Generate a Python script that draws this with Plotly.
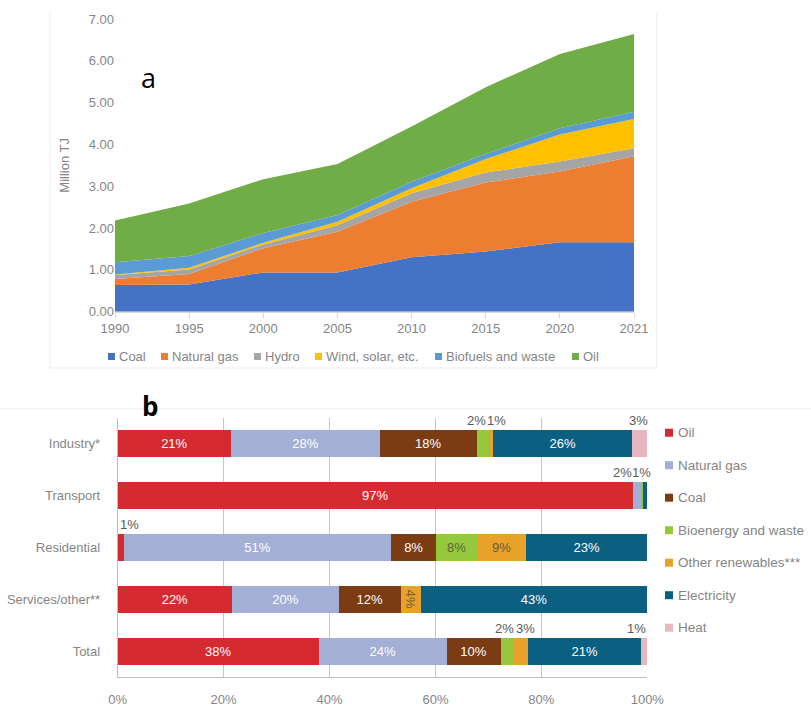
import plotly.graph_objects as go

# ---------------- Data: panel a ----------------
years = ["1990", "1995", "2000", "2005", "2010", "2015", "2020", "2021"]
coal = [0.64, 0.65, 0.94, 0.94, 1.30, 1.44, 1.66, 1.66]
natural_gas = [0.14, 0.25, 0.58, 0.97, 1.33, 1.65, 1.69, 2.06]
hydro = [0.10, 0.11, 0.09, 0.16, 0.20, 0.24, 0.24, 0.19]
wind_solar = [0.01, 0.04, 0.04, 0.08, 0.12, 0.32, 0.65, 0.70]
biofuels = [0.29, 0.28, 0.23, 0.16, 0.16, 0.12, 0.15, 0.17]
oil = [1.00, 1.26, 1.29, 1.22, 1.32, 1.60, 1.77, 1.86]
a_names = ["Coal", "Natural gas", "Hydro", "Wind, solar, etc.", "Biofuels and waste", "Oil"]
a_series = [coal, natural_gas, hydro, wind_solar, biofuels, oil]

# ---------------- Data: panel b ----------------
sectors = ["Industry*", "Transport", "Residential", "Services/other**", "Total"]
b_names = ["Oil", "Natural gas", "Coal", "Bioenergy and waste", "Other renewables***", "Electricity", "Heat"]
oil_b = [21.4, 97.3, 1.1, 21.6, 38.0]
gas_b = [28.1, 1.6, 50.6, 20.2, 24.1]
coal_b = [18.3, 0.0, 8.4, 11.6, 10.2]
bio_b = [2.4, 0.3, 7.8, 0.0, 2.4]
otherren_b = [0.7, 0.0, 9.2, 3.8, 2.8]
elec_b = [26.3, 0.8, 22.9, 42.8, 21.4]
heat_b = [2.8, 0.0, 0.0, 0.0, 1.1]
b_series = [oil_b, gas_b, coal_b, bio_b, otherren_b, elec_b, heat_b]
pct_ticks = [0, 20, 40, 60, 80, 100]

# ---------------- Styles ----------------
W, H = 811, 709
FONT = "Liberation Sans, Arial, sans-serif"
GREY = "#858585"
a_colors = ["#4472C4", "#ED7D31", "#A5A5A5", "#FFC000", "#5B9BD5", "#70AD47"]
b_colors = ["#D52A30", "#A3AFD5", "#7B3B13", "#95C83D", "#E9A229", "#0B6082", "#E8B6BE"]
b_textcolors = ["white", "white", "white", "#5f6238", "#6a5a3a", "white", "white"]


def px(x):
    return x / W


def py(y):
    return 1 - y / H


fig = go.Figure()

# Panel a: stacked areas
for name, vals, col in zip(a_names, a_series, a_colors):
    fig.add_trace(go.Scatter(
        x=years, y=vals, name=name, stackgroup="a", mode="lines",
        line=dict(width=0, color=col), fillcolor=col,
        xaxis="x", yaxis="y", showlegend=False, hoverinfo="x+y+name"))

# Panel b: stacked horizontal bars
for name, vals, col, tcol in zip(b_names, b_series, b_colors, b_textcolors):
    txt = [f"{round(v)}%" if v >= 3.5 else "" for v in vals]
    fig.add_trace(go.Bar(
        y=sectors, x=vals, name=name, orientation="h", marker=dict(color=col, line=dict(width=0)),
        text=txt, textposition="inside", insidetextanchor="middle", constraintext="none",
        textfont=dict(color=tcol, size=13, family=FONT), width=0.52,
        xaxis="x2", yaxis="y2", showlegend=False, hoverinfo="y+x+name"))

annotations = []
shapes = []

# Small labels above bars
xshift = {("Industry*", "Bioenergy and waste"): -7, ("Industry*", "Other renewables***"): 5,
          ("Industry*", "Heat"): -1, ("Transport", "Natural gas"): -15, ("Transport", "Electricity"): -4,
          ("Residential", "Oil"): 9, ("Total", "Bioenergy and waste"): -2,
          ("Total", "Other renewables***"): 5, ("Total", "Heat"): -8}
for i, sec in enumerate(sectors):
    cum = 0.0
    for name, vals in zip(b_names, b_series):
        v = vals[i]
        if 0.5 <= v < 3.5:
            annotations.append(dict(
                x=cum + v / 2, y=sec, xref="x2", yref="y2", text=f"{round(v)}%", showarrow=False,
                xanchor="center", yanchor="middle",
                yshift=23, xshift=xshift.get((sec, name), 0),
                font=dict(size=13, color="#5a5a5a", family=FONT)))
        cum += v

# Legend a (manual, compact like the original)
leg_a_x = [108, 161, 254, 315, 435, 572]
for name, col, lx in zip(a_names, a_colors, leg_a_x):
    shapes.append(dict(type="rect", xref="paper", yref="paper", x0=px(lx), x1=px(lx + 7),
                       y0=py(360), y1=py(353), fillcolor=col, line=dict(width=0)))
    annotations.append(dict(x=px(lx + 9), y=py(356.5), xref="paper", yref="paper", text=name,
                            showarrow=False, xanchor="left", yanchor="middle",
                            font=dict(size=13, color=GREY, family=FONT)))

# Legend b
for k, (name, col) in enumerate(zip(b_names, b_colors)):
    cy = 432.7 + 32.5 * k
    shapes.append(dict(type="rect", xref="paper", yref="paper", x0=px(665), x1=px(673),
                       y0=py(cy + 4), y1=py(cy - 4), fillcolor=col, line=dict(width=0)))
    annotations.append(dict(x=px(676), y=py(cy), xref="paper", yref="paper", text=name,
                            showarrow=False, xanchor="left", yanchor="middle",
                            font=dict(size=13.5, color=GREY, family=FONT)))

# Panel letters
annotations.append(dict(x=px(148), y=py(77), xref="paper", yref="paper", text="a", showarrow=False,
                        xanchor="center", yanchor="middle",
                        font=dict(size=27, color="black", family="Open Sans, sans-serif")))
annotations.append(dict(x=px(150), y=py(406), xref="paper", yref="paper", text="<b>b</b>", showarrow=False,
                        xanchor="center", yanchor="middle",
                        font=dict(size=26, color="black", family="Open Sans, sans-serif")))

# Faint panel borders
border = "#ececec"
shapes += [
    dict(type="line", xref="paper", yref="paper", x0=px(50), x1=px(50), y0=py(12), y1=py(368), line=dict(color=border, width=1)),
    dict(type="line", xref="paper", yref="paper", x0=px(657), x1=px(657), y0=py(12), y1=py(368), line=dict(color=border, width=1)),
    dict(type="line", xref="paper", yref="paper", x0=px(50), x1=px(657), y0=py(368), y1=py(368), line=dict(color=border, width=1)),
    dict(type="line", xref="paper", yref="paper", x0=px(0), x1=px(811), y0=py(409), y1=py(409), line=dict(color=border, width=1)),
]

fig.update_layout(
    width=W, height=H, margin=dict(l=0, r=0, t=0, b=0, autoexpand=False),
    paper_bgcolor="white", plot_bgcolor="white",
    barmode="stack", bargap=0.48,
    font=dict(family=FONT, color=GREY, size=13),
    annotations=annotations, shapes=shapes,
    xaxis=dict(domain=[px(115), px(634)], anchor="y", type="category", range=[0, 7], automargin=False,
               showgrid=False, zeroline=False, showline=True, linecolor="#d9d9d9", linewidth=1,
               ticks="outside", ticklen=5, tickcolor="#d9d9d9",
               tickfont=dict(size=13, color=GREY, family=FONT)),
    yaxis=dict(domain=[py(311.7), py(19)], anchor="x", range=[0, 7], dtick=1, tickformat=".2f", automargin=False,
               showgrid=False, zeroline=False, showline=False, ticks="",
               tickfont=dict(size=13, color=GREY, family=FONT),
               title=dict(text="Million TJ", font=dict(size=13, color=GREY, family=FONT), standoff=16)),
    xaxis2=dict(domain=[px(117.7), px(647.3)], anchor="y2", range=[0, 100], tickmode="array",
                tickvals=pct_ticks, ticktext=[f"{t}%" for t in pct_ticks], automargin=False,
                showgrid=True, gridcolor="#c6c6c6", gridwidth=1, zeroline=False,
                showline=True, linecolor="#bdbdbd", ticks="", ticklabelstandoff=10,
                tickfont=dict(size=13, color=GREY, family=FONT)),
    yaxis2=dict(domain=[py(677), py(418)], anchor="x2", type="category", categoryorder="array", automargin=False,
                categoryarray=sectors, range=[4.5, -0.5], showgrid=False, zeroline=False,
                showline=True, linecolor="#bdbdbd", ticks="", ticklabelstandoff=14,
                tickfont=dict(size=13, color=GREY, family=FONT)),
)

fig.write_html("out.html")
